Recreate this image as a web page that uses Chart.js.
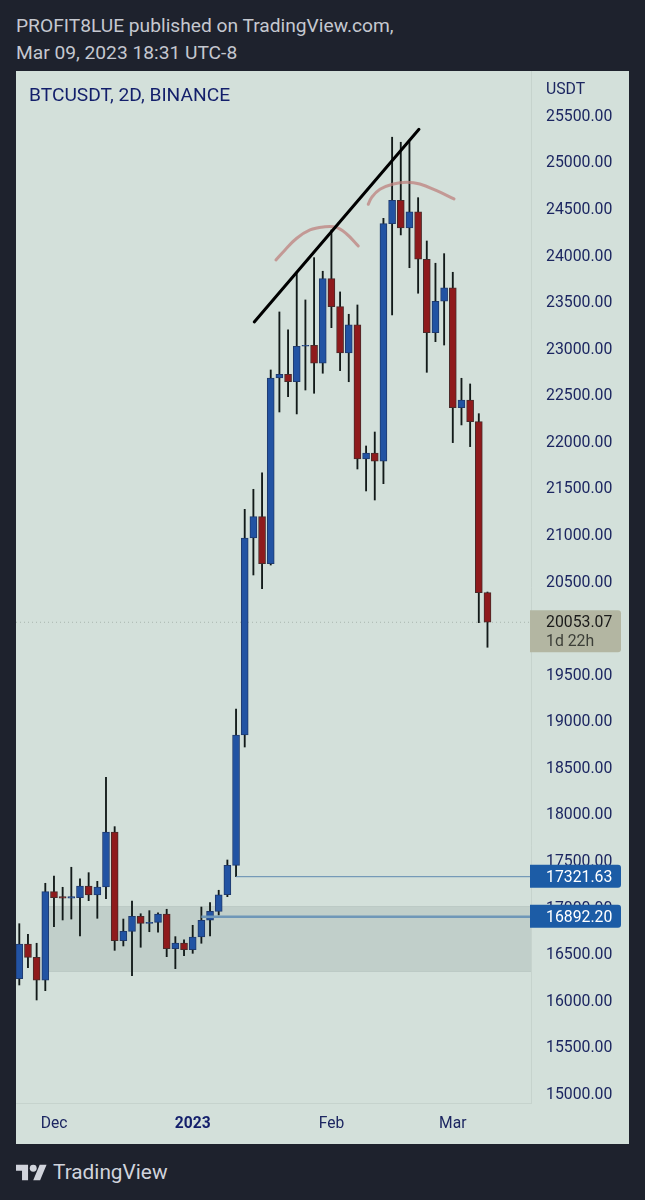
<!DOCTYPE html>
<html>
<head>
<meta charset="utf-8">
<title>BTCUSDT</title>
<script src="https://cdn.jsdelivr.net/npm/chart.js@4"></script>
<style>
    html, body { margin: 0; padding: 0; background: #1e222d; }
    body { width: 645px; height: 1200px; position: relative; overflow: hidden; font-family: Roboto, sans-serif; }
    #titulo { position: absolute; left: 16px; top: 12px; color: #c5c8d0; font-size: 19.2px; line-height: 27px; white-space: nowrap; }
    #painel { position: absolute; left: 16px; top: 71px; width: 613px; height: 1073px; }
    #rodape { position: absolute; left: 16px; top: 1159px; height: 26px; display: flex; align-items: center; color: #d1d4dc; font-size: 20.8px; }
    #rodape svg { margin-right: 6px; }
</style>
</head>
<body>
<div id="titulo">PROFIT8LUE published on TradingView.com,<br>Mar 09, 2023 18:31 UTC-8</div>
<div id="painel"><canvas id="grafico" width="613" height="1073"></canvas></div>
<div id="rodape">
    <svg width="31" height="17" viewBox="0 4 36 18"><path fill="#d1d4dc" d="M14 22H7V11H0V4h14v18zM28 22h-8l7.5-18h8L28 22z"/><circle fill="#d1d4dc" cx="20" cy="8" r="4"/></svg>
    <span>TradingView</span>
</div>

<script>
// Candles, 2D BTCUSDT
const opens = [16227, 16599, 16456, 16212, 17161, 17107, 17090, 17096, 17222, 17125, 17211, 17802, 16635, 16735, 16896, 16821, 16832, 16921, 16549, 16610, 16538, 16674, 16854, 16950, 17128, 17444, 18843, 20958, 21187, 20682, 22676, 22716, 22636, 23017, 23027, 22834, 23742, 23442, 22945, 23248, 21806, 21871, 21782, 24333, 24584, 24287, 24459, 23951, 23163, 23500, 23643, 22357, 22440, 22207, 20371];
const highs = [16817, 16703, 16607, 17251, 17329, 17208, 17423, 17300, 17365, 17272, 18389, 17859, 16867, 17061, 16924, 16957, 16935, 16972, 16678, 16645, 16800, 16996, 17043, 17176, 17501, 19122, 21266, 21481, 21659, 22762, 23385, 23192, 23800, 23514, 23968, 23822, 24265, 23600, 23360, 23460, 21946, 22096, 24391, 25261, 25207, 25213, 24612, 24147, 23908, 24011, 23811, 22673, 22612, 22293, 20378];
const lows = [16159, 16345, 15998, 16098, 16785, 16857, 16867, 16685, 17064, 16875, 17086, 16531, 16578, 16259, 16564, 16731, 16725, 16463, 16334, 16474, 16499, 16607, 16685, 16910, 17107, 17322, 18714, 20561, 20414, 20668, 22311, 22475, 22290, 22547, 22512, 22727, 23216, 22755, 22636, 21699, 21463, 21366, 21541, 23353, 24212, 23860, 23586, 22737, 23066, 23030, 21982, 22172, 21939, 20049, 19785];
const closes = [16599, 16456, 16212, 17161, 17096, 17090, 17107, 17222, 17125, 17211, 17802, 16635, 16735, 16896, 16821, 16832, 16921, 16549, 16610, 16538, 16674, 16854, 16950, 17128, 17444, 18843, 20958, 21187, 20682, 22676, 22716, 22636, 23017, 23027, 22834, 23742, 23442, 22945, 23248, 21806, 21871, 21782, 24333, 24584, 24287, 24459, 23951, 23163, 23500, 23643, 22357, 22440, 22207, 20371, 20053.07];

// Axis ticks (20000 sits under the last price badge)
const yTicks = [15000, 15500, 16000, 16500, 17000, 17500, 18000, 18500, 19000, 19500, 20500, 21000, 21500, 22000, 22500, 23000, 23500, 24000, 24500, 25000, 25500];
const xTickBars = [4, 20, 36, 50];
const xTickLabels = ['Dec', '2023', 'Feb', 'Mar'];

// Price levels marked on the right scale
const lastPrice = 20053.07;
const level1 = 17321.63;
const level2 = 16892.20;
const level1From = 25;
const level2From = 21;

// Shaded zone
const zoneFrom = 3.4;
const zoneTop = 17007;
const zoneBottom = 16299;

// Hand-drawn trendline and the two arcs over the tops
const trendX = [27.1, 46.1];
const trendY = [23278, 25346];
const arc1X = [29.6, 30.65, 32.0, 33.53, 35.06, 36.53, 37.76, 39.1];
const arc1Y = [23943, 24051, 24176, 24265, 24297, 24294, 24222, 24093];
const arc2X = [40.25, 40.65, 41.6, 43.14, 44.68, 46.2, 48.14, 50.14];
const arc2Y = [24541, 24616, 24702, 24759, 24777, 24759, 24687, 24598];

const xMin = -0.38;
const xMax = 59.02;
const yMin = 14892;
const yMax = 25972;

const NAVY = '#1c2661';
const AZUL = '#2253a3';
const VERMELHO = '#8f1a1c';
const BADGE_AZUL = '#1c5ca6';
const BADGE_CINZA = '#b3b6a2';

const pontos = (xs, ys) => xs.map((x, i) => ({ x: x, y: ys[i] }));
const sobe = opens.map((o, i) => closes[i] >= o);

function linha(data, cor, largura, extra) {
    return Object.assign({
        type: 'line',
        data: data,
        borderColor: cor,
        borderWidth: largura,
        pointRadius: 0,
        order: 1
    }, extra);
}

function etiqueta(ctx, x, y, w, h, cor) {
    ctx.fillStyle = cor;
    ctx.beginPath();
    ctx.roundRect(x, y, w, h, [0, 3, 3, 0]);
    ctx.fill();
}

// Zone under the candles
const zonaPlugin = {
    id: 'zona',
    beforeDatasetsDraw(chart) {
        const { ctx, chartArea, scales } = chart;
        const x0 = scales.x.getPixelForValue(zoneFrom);
        const y0 = scales.y.getPixelForValue(zoneTop);
        const y1 = scales.y.getPixelForValue(zoneBottom);
        ctx.save();
        ctx.fillStyle = '#c1cfca';
        ctx.fillRect(x0, y0, chartArea.right - x0, y1 - y0);
        ctx.fillStyle = '#bccac5';
        ctx.fillRect(x0, y0, chartArea.right - x0, 1);
        ctx.fillRect(x0, y1 - 1, chartArea.right - x0, 1);
        ctx.restore();
    }
};

// Chart caption, currency and the price badges
const rotulosPlugin = {
    id: 'rotulos',
    afterDraw(chart) {
        const { ctx, chartArea, scales } = chart;
        const xb = chartArea.right - 1;
        const xt = chartArea.right + 15;
        ctx.save();
        ctx.textBaseline = 'middle';
        ctx.textAlign = 'left';

        ctx.font = '19.2px Roboto';
        ctx.fillStyle = '#131f6b';
        ctx.fillText('BTCUSDT, 2D, BINANCE', 13, 25);
        ctx.font = '15.8px Roboto';
        ctx.fillStyle = NAVY;
        ctx.fillText('USDT', xt, 19);

        // badge for the last price, with time to bar close
        const yp = scales.y.getPixelForValue(lastPrice);
        etiqueta(ctx, xb, yp - 12, 91, 42, BADGE_CINZA);
        ctx.fillStyle = '#1a1a1a';
        ctx.fillText(lastPrice.toFixed(2), xt, yp + 0.5);
        ctx.fillStyle = '#3c3f38';
        ctx.fillText('1d 22h', xt, yp + 19.5);

        [level1, level2].forEach(v => {
            const y = scales.y.getPixelForValue(v);
            etiqueta(ctx, xb, y - 12, 91, 23, BADGE_AZUL);
            ctx.fillStyle = '#ffffff';
            ctx.fillText(v.toFixed(2), xt, y + 1);
        });
        ctx.restore();
    }
};

new Chart(document.getElementById('grafico').getContext('2d'), {
    type: 'bar',
    data: {
        datasets: [
            linha(pontos(trendX, trendY), '#000000', 3, { borderCapStyle: 'round', order: 0 }),
            linha(pontos(arc1X, arc1Y), 'rgba(190,130,125,0.75)', 3, { tension: 0.4, borderCapStyle: 'round', order: 1 }),
            linha(pontos(arc2X, arc2Y), 'rgba(190,130,125,0.75)', 3, { tension: 0.4, borderCapStyle: 'round', order: 1 }),
            linha(pontos([level1From, xMax], [level1, level1]), '#5f8bb0', 1, { order: 2 }),
            linha(pontos([level2From, xMax], [level2, level2]), '#6f97b8', 2.5, { order: 2 }),
            linha(pontos([xMin, xMax], [lastPrice, lastPrice]), 'rgba(120,130,125,0.45)', 1, { borderDash: [1, 3], order: 5 }),
            {
                // candle bodies
                data: opens.map((o, i) => ({ x: i, y: [o, closes[i]] })),
                backgroundColor: sobe.map(s => s ? AZUL : VERMELHO),
                borderColor: sobe.map(s => s ? '#1f3a6e' : '#4a2a2a'),
                borderWidth: 1,
                borderSkipped: false,
                barThickness: 7,
                grouped: false,
                order: 3
            },
            {
                // wicks
                data: lows.map((l, i) => ({ x: i, y: [l, highs[i]] })),
                backgroundColor: '#121a19',
                barThickness: 1.2,
                grouped: false,
                order: 4
            }
        ]
    },
    options: {
        responsive: false,
        animation: false,
        layout: { padding: 0, autoPadding: false },
        plugins: { legend: { display: false }, tooltip: { enabled: false }, title: { display: false } },
        scales: {
            x: {
                type: 'linear',
                offset: false,
                min: xMin,
                max: xMax,
                grid: { display: false, drawTicks: false },
                border: { color: '#c6d3cd' },
                afterBuildTicks: s => { s.ticks = xTickBars.map(v => ({ value: v })); },
                afterFit: s => { s.height = 41; s.paddingLeft = 0; s.paddingRight = 0; },
                ticks: {
                    autoSkip: false,
                    maxRotation: 0,
                    padding: 12,
                    callback: v => xTickLabels[xTickBars.indexOf(v)],
                    color: c => c.tick && c.tick.value === 20 ? '#131f6b' : NAVY,
                    font: c => ({ family: 'Roboto', size: 15.6, weight: c.tick && c.tick.value === 20 ? 'bold' : 'normal' })
                }
            },
            y: {
                type: 'linear',
                position: 'right',
                min: yMin,
                max: yMax,
                grid: { display: false, drawTicks: false },
                border: { color: '#c6d3cd' },
                afterBuildTicks: s => { s.ticks = yTicks.map(v => ({ value: v })); },
                // ticks.padding would otherwise push the plot area down
                afterFit: s => { s.width = 98; s.paddingTop = 0; s.paddingBottom = 0; },
                ticks: {
                    autoSkip: false,
                    padding: 15,
                    labelOffset: 2,
                    callback: v => v.toFixed(2),
                    color: NAVY,
                    font: { family: 'Roboto', size: 15.8 }
                }
            }
        }
    },
    plugins: [
        zonaPlugin,
        rotulosPlugin,
        {
            id: 'fundo',
            beforeDraw(chart) {
                const { ctx, width, height } = chart;
                ctx.fillStyle = '#d3e0da';
                ctx.fillRect(0, 0, width, height);
            }
        }
    ]
});
</script>
</body>
</html>
